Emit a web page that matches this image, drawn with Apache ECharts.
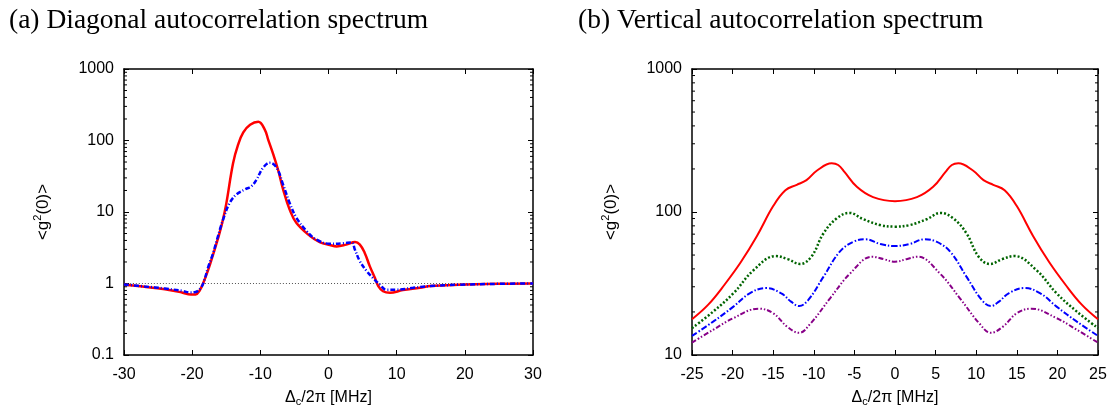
<!DOCTYPE html>
<html>
<head>
<meta charset="utf-8">
<script src="https://cdn.jsdelivr.net/npm/echarts@6.0.0/dist/echarts.min.js"></script>
<style>
  html, body { margin: 0; padding: 0; background: #fff; }
  #chart { width: 1117px; height: 411px; }
</style>
</head>
<body>
<div id="chart"></div>
<script>
// ---------- data ----------
const titleA = '(a) Diagonal autocorrelation spectrum';
const titleB = '(b) Vertical autocorrelation spectrum';

// (a) diagonal: [detuning MHz, <g2(0)>]
const diagRed = [[-30,0.96],[-27,0.9],[-24,0.83],[-21.5,0.75],[-20.2,0.70],[-19.5,0.70],[-18.9,0.8],[-18.4,1.0],
  [-17.6,1.6],[-16.9,2.6],[-16.2,4.3],[-15.6,7.0],[-15.0,13],[-14.0,48],[-13.25,88],[-12.5,130],[-11.5,166],
  [-10.3,183],[-9.35,142],[-8.85,103],[-8.1,64],[-7.4,39],[-6.65,20.6],[-5.7,10.8],[-4.7,7.0],[-2.7,4.6],
  [-1.3,3.8],[0.2,3.45],[1.2,3.3],[2.6,3.5],[3.9,3.8],[4.6,3.5],[5.3,2.7],[6.05,1.75],[6.8,1.2],[7.3,0.92],
  [8.0,0.78],[9.0,0.74],[10.9,0.81],[13.4,0.87],[15,0.92],[19,0.96],[25,0.99],[30,1.0]];
const diagBlue = [[-30,0.97],[-27,0.91],[-24,0.85],[-21.5,0.79],[-20.3,0.75],[-19.5,0.76],[-18.8,0.85],[-18.3,1.05],
  [-17.65,1.7],[-16.9,2.7],[-16.4,4.0],[-15.45,7.9],[-14.5,13.4],[-13.5,17.6],[-12.3,20.6],[-11.3,23],[-10.55,28.5],
  [-9.6,41.5],[-8.6,48.7],[-7.6,41.5],[-6.65,24],[-5.7,13.4],[-4.7,8.3],[-3.2,5.4],[-1.75,4.1],[0.2,3.6],[2.1,3.65],
  [3.4,3.75],[3.86,3.0],[4.6,2.05],[5.6,1.49],[6.5,1.2],[7.5,0.97],[8.5,0.82],[9.9,0.82],[12.4,0.87],[15,0.92],
  [19,0.96],[25,0.99],[30,1.0]];
const diagRef = [[-30,1],[30,1]];

// (b) vertical
const vertRed = [[-25,17.8],[-23,22.5],[-21,31],[-19,44.5],[-17,68],[-15,110],[-13.5,142],[-12.1,155],[-10.9,167],
  [-9.6,195],[-7.8,219],[-7.0,213],[-6.2,190],[-4.7,150],[-2.7,127],[0,119],[2.7,127],[4.7,150],[6.2,190],[7.0,213],
  [7.8,219],[9.6,195],[10.9,167],[12.1,155],[13.5,142],[15,110],[17,68],[19,44.5],[21,31],[23,22.5],[25,17.8]];
const vertGreen = [[-25,15.4],[-22.4,20.1],[-19.9,27],[-17.4,39.3],[-14.7,49.2],[-13.2,46.8],[-11.7,43.3],[-10.3,48.7],
  [-8.8,71],[-7.2,90],[-5.6,98.5],[-3.9,89],[-1.8,81],[0,79],[1.8,81],[3.9,89],[5.6,98.5],[7.2,90],[8.8,71],
  [10.3,48.7],[11.7,43.3],[13.2,46.8],[14.7,49.2],[17.4,39.3],[19.9,27],[22.4,20.1],[25,15.4]];
const vertBlue = [[-25,13.6],[-22.4,17.1],[-19.9,21.8],[-17.9,27],[-15.9,29.4],[-14.0,27],[-12.8,23.6],[-11.8,22],
  [-10.7,24.2],[-8.8,35.3],[-6.8,52.8],[-5.1,62],[-3.6,64.4],[-1.8,59.7],[0,57.8],[1.8,59.7],[3.6,64.4],[5.1,62],
  [6.8,52.8],[8.8,35.3],[10.7,24.2],[11.8,22],[12.8,23.6],[14.0,27],[15.9,29.4],[17.9,27],[19.9,21.8],[22.4,17.1],[25,13.6]];
const vertPurple = [[-25,12.2],[-22.4,15],[-19.9,18.1],[-16.8,21.1],[-15,19.6],[-13.3,15.8],[-11.8,14.3],[-10.4,16.6],
  [-8,24.9],[-5.5,37.3],[-2.8,48.7],[-1.4,46.8],[0,44.9],[1.4,46.8],[2.8,48.7],[5.5,37.3],[8,24.9],[10.4,16.6],
  [11.8,14.3],[13.3,15.8],[15,19.6],[16.8,21.1],[19.9,18.1],[22.4,15],[25,12.2]];

// axis ranges / tick labels
const aX = { min: -30, max: 30, step: 10 };
const aY = { min: 0.1, max: 1000 };
const bX = { min: -25, max: 25, step: 5 };
const bY = { min: 10, max: 1000 };
const minorMult = [2,3,4,5,6,7,8,9];
const yName = '<g{sup|2}(0)>';
const xName = '\u0394{sub|c}/2\u03c0 [MHz]';

// ---------- helpers ----------
function minorValues(lo, hi) {
  const out = [];
  for (let d = lo; d < hi; d *= 10) minorMult.forEach(m => out.push(d * m));
  return out;
}
const labelFont = 'Liberation Sans';
const tickStyle = { show: true, inside: true, length: 5, lineStyle: { color: '#000', width: 1 } };
const lineAxis = { show: true, onZero: false, lineStyle: { color: '#000', width: 1.5 } };
const nameRich = {
  sup: { fontSize: 11, lineHeight: 12, verticalAlign: 'top', fontFamily: labelFont, color: '#000' },
  sub: { fontSize: 11, lineHeight: 12, verticalAlign: 'bottom', fontFamily: labelFont, color: '#000' }
};
function xAxes(grid, r) {
  return [
    { gridIndex: grid, type: 'value', min: r.min, max: r.max, interval: r.step, position: 'bottom',
      axisLine: lineAxis, axisTick: tickStyle, splitLine: { show: false },
      axisLabel: { color: '#000', fontSize: 16, fontFamily: labelFont, margin: 12 },
      name: xName, nameLocation: 'middle', nameGap: 29,
      nameTextStyle: { color: '#000', fontSize: 16, fontFamily: labelFont, lineHeight: 20, rich: nameRich } },
    { gridIndex: grid, type: 'value', min: r.min, max: r.max, interval: r.step, position: 'top',
      axisLine: lineAxis, axisTick: tickStyle, splitLine: { show: false }, axisLabel: { show: false } }
  ];
}
function yAxes(grid, r) {
  return [
    { gridIndex: grid, type: 'log', logBase: 10, min: r.min, max: r.max, position: 'left',
      axisLine: lineAxis, axisTick: tickStyle, splitLine: { show: false }, minorTick: { show: false },
      axisLabel: { color: '#000', fontSize: 16, fontFamily: labelFont, margin: 10,
        formatter: v => String(+v.toPrecision(3)) },
      name: yName, nameLocation: 'middle', nameRotate: 90, nameGap: 70,
      nameTextStyle: { color: '#000', fontSize: 17, fontFamily: labelFont, lineHeight: 22, rich: nameRich } },
    { gridIndex: grid, type: 'log', logBase: 10, min: r.min, max: r.max, position: 'right',
      axisLine: lineAxis, axisTick: tickStyle, splitLine: { show: false }, axisLabel: { show: false } }
  ];
}
function minorTickSeries(xi, yi, xr, yr) {
  return {
    type: 'custom', xAxisIndex: xi, yAxisIndex: yi, silent: true, z: 5, clip: false,
    data: minorValues(yr.min, yr.max).map(v => [xr.min, v]),
    renderItem: function (params, api) {
      const v = api.value(1);
      const pL = api.coord([xr.min, v]);
      const pR = api.coord([xr.max, v]);
      const st = { stroke: '#000', lineWidth: 1 };
      return { type: 'group', children: [
        { type: 'line', shape: { x1: pL[0], y1: pL[1], x2: pL[0] + 3, y2: pL[1] }, style: st },
        { type: 'line', shape: { x1: pR[0], y1: pR[1], x2: pR[0] - 3, y2: pR[1] }, style: st }
      ]};
    }
  };
}
function curve(data, xi, yi, color, type, width, z) {
  return { type: 'line', xAxisIndex: xi, yAxisIndex: yi, data: data, symbol: 'none', smooth: 0.4,
    z: z || 3, silent: true, lineStyle: { color: color, width: width, type: type } };
}

const titleStyle = { fontFamily: 'Liberation Serif', fontSize: 27.5, fontWeight: 'normal', color: '#000' };
const chart = echarts.init(document.getElementById('chart'), null, { renderer: 'canvas' });
chart.setOption({
  animation: false,
  backgroundColor: '#fff',
  title: [
    { text: titleA, left: 9, top: 7, padding: 0, textStyle: titleStyle },
    { text: titleB, left: 578, top: 7, padding: 0, textStyle: titleStyle }
  ],
  grid: [
    { left: 124, right: 584, top: 69, bottom: 56, outerBoundsMode: 'none', containLabel: false },
    { left: 692, right: 19, top: 69, bottom: 56, outerBoundsMode: 'none', containLabel: false }
  ],
  xAxis: [...xAxes(0, aX), ...xAxes(1, bX)],
  yAxis: [...yAxes(0, aY), ...yAxes(1, bY)],
  series: [
    curve(diagRef, 0, 0, '#555', [1, 2], 1, 2),
    curve(diagRed, 0, 0, '#ff0000', 'solid', 2.5),
    curve(diagBlue, 0, 0, '#0000ff', [5, 2, 1, 2], 2.5, 4),
    minorTickSeries(0, 0, aX, aY),
    curve(vertRed, 2, 2, '#ff0000', 'solid', 2),
    curve(vertGreen, 2, 2, '#006400', [2, 2], 2.5),
    curve(vertBlue, 2, 2, '#0000ff', [6, 2, 1.5, 2], 2),
    curve(vertPurple, 2, 2, '#880088', [5, 2, 1.5, 2, 1.5, 2], 2),
    minorTickSeries(2, 2, bX, bY)
  ]
});
</script>
</body>
</html>
